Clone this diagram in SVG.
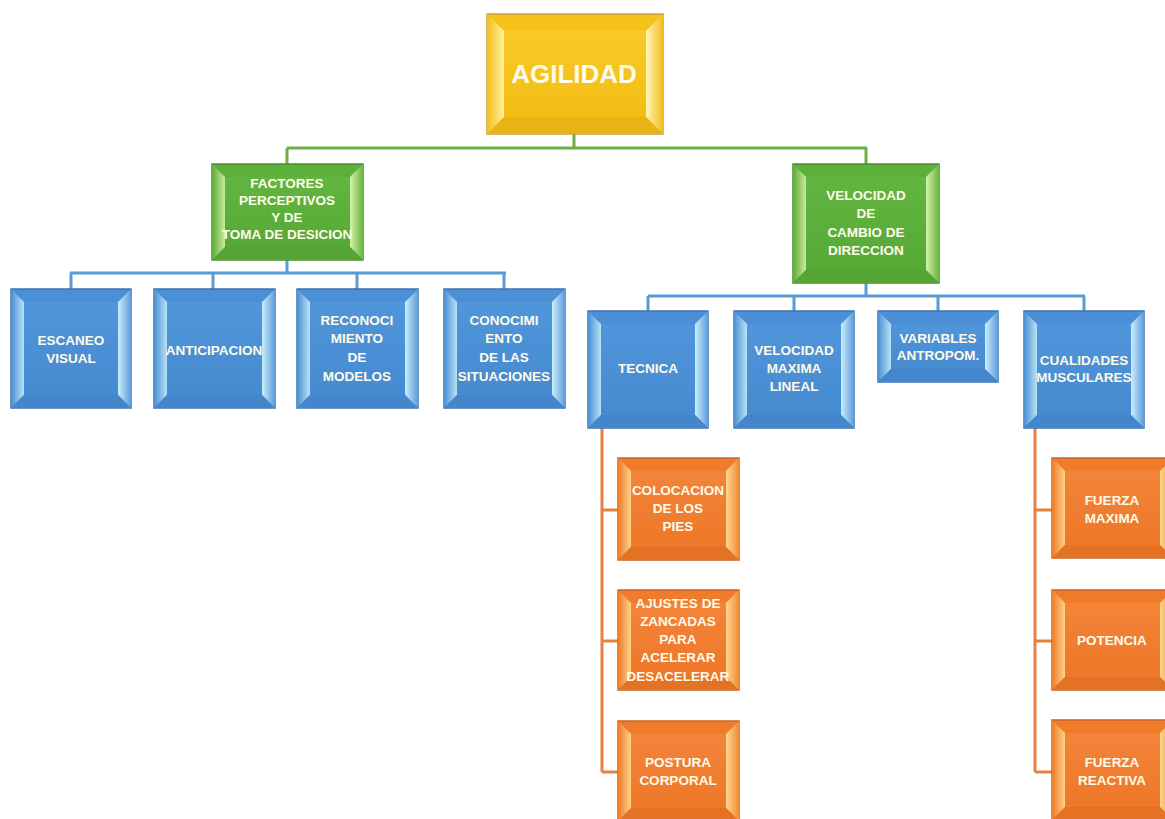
<svg xmlns="http://www.w3.org/2000/svg" width="1165" height="819" viewBox="0 0 1165 819">
<defs>
<linearGradient id="yL" x1="0" y1="0" x2="1" y2="0"><stop offset="0" stop-color="#f2bf1a"/><stop offset="1" stop-color="#fff2a0"/></linearGradient>
<linearGradient id="yR" x1="0" y1="0" x2="1" y2="0"><stop offset="0" stop-color="#fff6b8"/><stop offset="1" stop-color="#f1bd1e"/></linearGradient>
<linearGradient id="yI" x1="0" y1="0" x2="0" y2="1"><stop offset="0" stop-color="#f8ca28"/><stop offset="1" stop-color="#f3bd14"/></linearGradient>
<linearGradient id="gL" x1="0" y1="0" x2="1" y2="0"><stop offset="0" stop-color="#5aad38"/><stop offset="1" stop-color="#cbe99c"/></linearGradient>
<linearGradient id="gR" x1="0" y1="0" x2="1" y2="0"><stop offset="0" stop-color="#d6f2ac"/><stop offset="1" stop-color="#66b642"/></linearGradient>
<linearGradient id="gI" x1="0" y1="0" x2="0" y2="1"><stop offset="0" stop-color="#62b540"/><stop offset="1" stop-color="#57a936"/></linearGradient>
<linearGradient id="bL" x1="0" y1="0" x2="1" y2="0"><stop offset="0" stop-color="#4a8fd4"/><stop offset="1" stop-color="#b9e3f6"/></linearGradient>
<linearGradient id="bR" x1="0" y1="0" x2="1" y2="0"><stop offset="0" stop-color="#cbeffa"/><stop offset="1" stop-color="#5c9cdb"/></linearGradient>
<linearGradient id="bI" x1="0" y1="0" x2="0" y2="1"><stop offset="0" stop-color="#5096db"/><stop offset="1" stop-color="#468ad0"/></linearGradient>
<linearGradient id="oL" x1="0" y1="0" x2="1" y2="0"><stop offset="0" stop-color="#ef7a2a"/><stop offset="1" stop-color="#ffd488"/></linearGradient>
<linearGradient id="oR" x1="0" y1="0" x2="1" y2="0"><stop offset="0" stop-color="#ffd890"/><stop offset="1" stop-color="#f28a38"/></linearGradient>
<linearGradient id="oI" x1="0" y1="0" x2="0" y2="1"><stop offset="0" stop-color="#f2843a"/><stop offset="1" stop-color="#ee7728"/></linearGradient>
</defs>
<style>
.yo{fill:#f5c21b;stroke:#c9a23a;stroke-width:1.5}.yl{fill:url(#yL)}.yr{fill:url(#yR)}.yb{fill:#e8b314}.yi{fill:url(#yI)}
.go{fill:#5db13b;stroke:#4a8c2f;stroke-width:1.5}.gl{fill:url(#gL)}.gr{fill:url(#gR)}.gb{fill:#55a435}.gi{fill:url(#gI)}
.bo{fill:#4b90d6;stroke:#3b74b0;stroke-width:1.5}.bl{fill:url(#bL)}.br{fill:url(#bR)}.bb{fill:#4486cb}.bi{fill:url(#bI)}
.oo{fill:#f07b2b;stroke:#c9652a;stroke-width:1.5}.ol{fill:url(#oL)}.or{fill:url(#oR)}.ob{fill:#e47225}.oi{fill:url(#oI)}
.t{font-family:"Liberation Sans",Arial,sans-serif;font-weight:bold;font-size:13.5px;fill:#fffbea;text-anchor:middle}
.big{font-size:26px}
.cg{fill:none;stroke:#6cae47;stroke-width:3}
.cb{fill:none;stroke:#5b9bd5;stroke-width:3}
.co{fill:none;stroke:#e8803f;stroke-width:3}
</style>
<rect width="1165" height="819" fill="#ffffff"/>
<g id="connectors">
<path class="cg" d="M574,134V148M287,148H867M287,148V164M866,148V164"/>
<path class="cb" d="M287,260V273M70,273H506M71,273V289M213,273V289M357,273V289M504,273V289"/>
<path class="cb" d="M866,283V296M648,296H1085M648,296V311M794,296V311M938,296V311M1084,296V311"/>
<path class="co" d="M602,428V772M602,510H618M602,641H618M602,772H618"/>
<path class="co" d="M1035,428V772M1035,510H1052M1035,641H1052M1035,772H1052"/>
</g>
<g id="agilidad">
<g transform="translate(487,14)"><rect class="yo" width="176" height="120"/><polygon class="yl" points="0,0 17,17 17,103 0,120"/><polygon class="yr" points="176,0 159,17 159,103 176,120"/><polygon class="yb" points="0,120 17,103 159,103 176,120"/><rect class="yi" x="17" y="17" width="142" height="86"/></g>
<text class="t big" x="574" y="83">AGILIDAD</text>
</g>
<g id="factores">
<g transform="translate(212,164)"><rect class="go" width="151" height="96"/><polygon class="gl" points="0,0 13,13 13,83 0,96"/><polygon class="gr" points="151,0 138,13 138,83 151,96"/><polygon class="gb" points="0,96 13,83 138,83 151,96"/><rect class="gi" x="13" y="13" width="125" height="70"/></g>
<text class="t" x="287" y="188">FACTORES</text><text class="t" x="287" y="205">PERCEPTIVOS</text><text class="t" x="287" y="222">Y DE</text><text class="t" x="287" y="239">TOMA DE DESICION</text>
</g>
<g id="velocidad-cambio">
<g transform="translate(793,164)"><rect class="go" width="146" height="119"/><polygon class="gl" points="0,0 13,13 13,106 0,119"/><polygon class="gr" points="146,0 133,13 133,106 146,119"/><polygon class="gb" points="0,119 13,106 133,106 146,119"/><rect class="gi" x="13" y="13" width="120" height="93"/></g>
<text class="t" x="866" y="200">VELOCIDAD</text><text class="t" x="866" y="218">DE</text><text class="t" x="866" y="237">CAMBIO DE</text><text class="t" x="866" y="255">DIRECCION</text>
</g>
<g id="escaneo">
<g transform="translate(11,289)"><rect class="bo" width="120" height="119"/><polygon class="bl" points="0,0 13,13 13,106 0,119"/><polygon class="br" points="120,0 107,13 107,106 120,119"/><polygon class="bb" points="0,119 13,106 107,106 120,119"/><rect class="bi" x="13" y="13" width="94" height="93"/></g>
<text class="t" x="71" y="345">ESCANEO</text><text class="t" x="71" y="363">VISUAL</text>
</g>
<g id="anticipacion">
<g transform="translate(154,289)"><rect class="bo" width="121" height="119"/><polygon class="bl" points="0,0 13,13 13,106 0,119"/><polygon class="br" points="121,0 108,13 108,106 121,119"/><polygon class="bb" points="0,119 13,106 108,106 121,119"/><rect class="bi" x="13" y="13" width="95" height="93"/></g>
<text class="t" x="214" y="355">ANTICIPACION</text>
</g>
<g id="reconocimiento">
<g transform="translate(297,289)"><rect class="bo" width="121" height="119"/><polygon class="bl" points="0,0 13,13 13,106 0,119"/><polygon class="br" points="121,0 108,13 108,106 121,119"/><polygon class="bb" points="0,119 13,106 108,106 121,119"/><rect class="bi" x="13" y="13" width="95" height="93"/></g>
<text class="t" x="357" y="325">RECONOCI</text><text class="t" x="357" y="343">MIENTO</text><text class="t" x="357" y="362">DE</text><text class="t" x="357" y="381">MODELOS</text>
</g>
<g id="conocimiento">
<g transform="translate(444,289)"><rect class="bo" width="121" height="119"/><polygon class="bl" points="0,0 13,13 13,106 0,119"/><polygon class="br" points="121,0 108,13 108,106 121,119"/><polygon class="bb" points="0,119 13,106 108,106 121,119"/><rect class="bi" x="13" y="13" width="95" height="93"/></g>
<text class="t" x="504" y="325">CONOCIMI</text><text class="t" x="504" y="343">ENTO</text><text class="t" x="504" y="362">DE LAS</text><text class="t" x="504" y="381">SITUACIONES</text>
</g>
<g id="tecnica">
<g transform="translate(588,311)"><rect class="bo" width="120" height="117"/><polygon class="bl" points="0,0 13,13 13,104 0,117"/><polygon class="br" points="120,0 107,13 107,104 120,117"/><polygon class="bb" points="0,117 13,104 107,104 120,117"/><rect class="bi" x="13" y="13" width="94" height="91"/></g>
<text class="t" x="648" y="373">TECNICA</text>
</g>
<g id="velocidad-maxima">
<g transform="translate(734,311)"><rect class="bo" width="120" height="117"/><polygon class="bl" points="0,0 13,13 13,104 0,117"/><polygon class="br" points="120,0 107,13 107,104 120,117"/><polygon class="bb" points="0,117 13,104 107,104 120,117"/><rect class="bi" x="13" y="13" width="94" height="91"/></g>
<text class="t" x="794" y="355">VELOCIDAD</text><text class="t" x="794" y="373">MAXIMA</text><text class="t" x="794" y="391">LINEAL</text>
</g>
<g id="variables">
<g transform="translate(878,311)"><rect class="bo" width="120" height="71"/><polygon class="bl" points="0,0 13,13 13,58 0,71"/><polygon class="br" points="120,0 107,13 107,58 120,71"/><polygon class="bb" points="0,71 13,58 107,58 120,71"/><rect class="bi" x="13" y="13" width="94" height="45"/></g>
<text class="t" x="938" y="343">VARIABLES</text><text class="t" x="938" y="360">ANTROPOM.</text>
</g>
<g id="cualidades">
<g transform="translate(1024,311)"><rect class="bo" width="120" height="117"/><polygon class="bl" points="0,0 13,13 13,104 0,117"/><polygon class="br" points="120,0 107,13 107,104 120,117"/><polygon class="bb" points="0,117 13,104 107,104 120,117"/><rect class="bi" x="13" y="13" width="94" height="91"/></g>
<text class="t" x="1084" y="365">CUALIDADES</text><text class="t" x="1084" y="382">MUSCULARES</text>
</g>
<g id="colocacion">
<g transform="translate(618,458)"><rect class="oo" width="121" height="102"/><polygon class="ol" points="0,0 13,13 13,89 0,102"/><polygon class="or" points="121,0 108,13 108,89 121,102"/><polygon class="ob" points="0,102 13,89 108,89 121,102"/><rect class="oi" x="13" y="13" width="95" height="76"/></g>
<text class="t" x="678" y="495">COLOCACION</text><text class="t" x="678" y="513">DE LOS</text><text class="t" x="678" y="531">PIES</text>
</g>
<g id="ajustes">
<g transform="translate(618,590)"><rect class="oo" width="121" height="100"/><polygon class="ol" points="0,0 13,13 13,87 0,100"/><polygon class="or" points="121,0 108,13 108,87 121,100"/><polygon class="ob" points="0,100 13,87 108,87 121,100"/><rect class="oi" x="13" y="13" width="95" height="74"/></g>
<text class="t" x="678" y="608">AJUSTES DE</text><text class="t" x="678" y="626">ZANCADAS</text><text class="t" x="678" y="644">PARA</text><text class="t" x="678" y="662">ACELERAR</text><text class="t" x="678" y="681">DESACELERAR</text>
</g>
<g id="postura">
<g transform="translate(618,721)"><rect class="oo" width="121" height="100"/><polygon class="ol" points="0,0 13,13 13,87 0,100"/><polygon class="or" points="121,0 108,13 108,87 121,100"/><polygon class="ob" points="0,100 13,87 108,87 121,100"/><rect class="oi" x="13" y="13" width="95" height="74"/></g>
<text class="t" x="678" y="767">POSTURA</text><text class="t" x="678" y="785">CORPORAL</text>
</g>
<g id="fuerza-maxima">
<g transform="translate(1052,458)"><rect class="oo" width="121" height="100"/><polygon class="ol" points="0,0 13,13 13,87 0,100"/><polygon class="or" points="121,0 108,13 108,87 121,100"/><polygon class="ob" points="0,100 13,87 108,87 121,100"/><rect class="oi" x="13" y="13" width="95" height="74"/></g>
<text class="t" x="1112" y="505">FUERZA</text><text class="t" x="1112" y="523">MAXIMA</text>
</g>
<g id="potencia">
<g transform="translate(1052,590)"><rect class="oo" width="121" height="100"/><polygon class="ol" points="0,0 13,13 13,87 0,100"/><polygon class="or" points="121,0 108,13 108,87 121,100"/><polygon class="ob" points="0,100 13,87 108,87 121,100"/><rect class="oi" x="13" y="13" width="95" height="74"/></g>
<text class="t" x="1112" y="645">POTENCIA</text>
</g>
<g id="fuerza-reactiva">
<g transform="translate(1052,720)"><rect class="oo" width="121" height="100"/><polygon class="ol" points="0,0 13,13 13,87 0,100"/><polygon class="or" points="121,0 108,13 108,87 121,100"/><polygon class="ob" points="0,100 13,87 108,87 121,100"/><rect class="oi" x="13" y="13" width="95" height="74"/></g>
<text class="t" x="1112" y="767">FUERZA</text><text class="t" x="1112" y="785">REACTIVA</text>
</g>
</svg>
